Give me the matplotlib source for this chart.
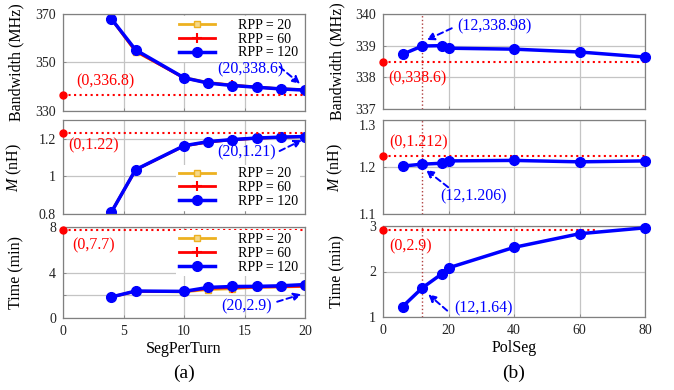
import matplotlib
matplotlib.use("Agg")
from matplotlib import pyplot as plt

plt.rcParams['font.family'] = ['Liberation Serif', 'DejaVu Serif']
plt.rcParams['mathtext.fontset'] = 'custom'
plt.rcParams['mathtext.it'] = 'Liberation Serif:italic'

# (a) SegPerTurn sweep
seg = [4, 6, 10, 12, 14, 16, 18, 20]
bw_rpp20 = [368.0, 354.5, 343.8, 341.8, 340.7, 339.9, 339.2, 338.8]
bw_rpp60 = [368.0, 354.7, 343.6, 341.6, 340.6, 339.8, 339.1, 338.7]
bw_rpp120 = [368.0, 355.2, 343.7, 341.5, 340.5, 339.8, 339.1, 338.6]
m_rpp20 = [0.81, 1.035, 1.162, 1.183, 1.195, 1.203, 1.208, 1.212]
m_rpp60 = [0.81, 1.035, 1.162, 1.183, 1.195, 1.203, 1.208, 1.212]
m_rpp120 = [0.81, 1.036, 1.163, 1.185, 1.196, 1.204, 1.209, 1.212]
t_rpp20 = [1.85, 2.35, 2.30, 2.50, 2.57, 2.70, 2.72, 2.78]
t_rpp60 = [1.85, 2.35, 2.32, 2.60, 2.68, 2.72, 2.76, 2.80]
t_rpp120 = [1.85, 2.37, 2.34, 2.69, 2.77, 2.78, 2.83, 2.94]
ref_a = [336.8, 1.23, 7.7]

# (b) PolSeg sweep
pol = [6, 12, 18, 20, 40, 60, 80]
bw_pol = [338.73, 338.99, 339.0, 338.92, 338.89, 338.8, 338.64]
m_pol = [1.202, 1.206, 1.208, 1.213, 1.214, 1.211, 1.213]
t_pol = [1.23, 1.64, 1.95, 2.08, 2.53, 2.83, 2.96]
ref_b = [338.5, 1.223, 2.91]

W, H = 674, 390
fig = plt.figure(figsize=(W / 100, H / 100), dpi=100)


def box(x0, x1, y0, y1):
    return [x0 / W, 1 - y1 / H, (x1 - x0) / W, (y1 - y0) / H]


axa = [fig.add_axes(box(63, 305, 14, 111)),
       fig.add_axes(box(63, 305, 120, 214)),
       fig.add_axes(box(63, 305, 227, 318))]
axb = [fig.add_axes(box(383, 645, 14, 109)),
       fig.add_axes(box(383, 645, 120, 214)),
       fig.add_axes(box(383, 645, 226, 317))]

blue = '#0000ff'
red = '#ff0000'
orange = '#EDB120'


def style(ax):
    ax.grid(True, color='#c4c4c4', lw=0.9)
    ax.set_axisbelow(True)
    for s in ax.spines.values():
        s.set_color('#808080')
        s.set_linewidth(0.9)
    ax.tick_params(direction='in', length=2, width=0.6, color='#808080',
                   labelsize=10, pad=5, labelcolor='#222222')


ylabels = ['Bandwidth (MHz)', '$M$ (nH)', 'Time (min)']

# left column
series_a = [(bw_rpp20, bw_rpp60, bw_rpp120), (m_rpp20, m_rpp60, m_rpp120),
            (t_rpp20, t_rpp60, t_rpp120)]
ylims_a = [(330, 370), (0.8, 1.3), (0, 8)]
yticks_a = [[330, 350, 370], [0.8, 1, 1.2], [0, 2, 4, 8]]
legend_y = [0.74, 0.28, 0.71]
for i, ax in enumerate(axa):
    style(ax)
    s20, s60, s120 = series_a[i]
    ax.plot(seg, s20, '-s', color=orange, lw=2, ms=5, mfc='#f5d98a', label='RPP = 20')
    ax.plot(seg, s60, '-+', color=red, lw=2, ms=7, mew=1.5, label='RPP = 60')
    ax.plot(seg, s120, '-o', color=blue, lw=2.5, ms=7, mfc=blue, label='RPP = 120')
    ax.plot([0, 20], [ref_a[i], ref_a[i]], ':', color=red, lw=1.5)
    ax.plot([0], [ref_a[i]], 'o', color=red, ms=5, clip_on=False, zorder=5)
    ax.set_xlim(0, 20)
    ax.set_ylim(*ylims_a[i])
    ax.set_xticks([0, 5, 10, 15, 20])
    ax.set_yticks(yticks_a[i])
    ax.set_ylabel(ylabels[i], fontsize=11.5)
    ax.yaxis.set_label_coords(-0.16, 0.5)
    if i < 2:
        ax.set_xticklabels([])
    leg = ax.legend(loc='center left', bbox_to_anchor=(0.44, legend_y[i]),
                    fontsize=10, frameon=True, edgecolor='none', fancybox=False,
                    framealpha=1, handlelength=2.6, handletextpad=1.6,
                    labelspacing=0.05, borderpad=0.2)
axa[1].set_yticklabels(['0.8', '1', '1.2'])
axa[2].set_yticklabels(['0', '', '4', '8'])
axa[2].set_xlabel('SegPerTurn', fontsize=11.5, labelpad=2)

# right column
series_b = [bw_pol, m_pol, t_pol]
ylims_b = [(337, 340), (1.1, 1.3), (1, 3.0)]
yticks_b = [[337, 338, 339, 340], [1.1, 1.2, 1.3], [1, 2, 3]]
ref_end = [80, 80, 65]
for i, ax in enumerate(axb):
    style(ax)
    ax.plot(pol, series_b[i], '-o', color=blue, lw=2.5, ms=7, mfc=blue, clip_on=False, zorder=4)
    ax.plot([0, ref_end[i]], [ref_b[i], ref_b[i]], ':', color=red, lw=1.5)
    ax.plot([0], [ref_b[i]], 'o', color=red, ms=5, clip_on=False, zorder=5)
    ax.axvline(12, ls=':', color='#b04040', lw=1)
    ax.set_xlim(0, 80)
    ax.set_ylim(*ylims_b[i])
    ax.set_xticks([0, 20, 40, 60, 80])
    ax.set_yticks(yticks_b[i])
    ax.set_ylabel(ylabels[i], fontsize=11.5)
    ax.yaxis.set_label_coords(-0.145, 0.5)
    if i < 2:
        ax.set_xticklabels([])
axb[2].set_xlabel('PolSeg', fontsize=11.5, labelpad=2)
# the top label of the middle panel sits a little lower, clear of "337"
axb[1].yaxis.get_major_ticks()[2].label1.set_va('top')

arrow = dict(arrowstyle='-|>', color=blue, lw=1.4, linestyle=(0, (3, 2)),
             mutation_scale=11, shrinkA=0, shrinkB=0)
fs = 11.5

# annotations (a)
axa[0].text(3.5, 342.4, '(0,336.8)', color=red, fontsize=fs, ha='center', va='center')
axa[0].text(15.45, 347, '(20,338.6)', color=blue, fontsize=fs, ha='center', va='center')
axa[0].annotate('', xy=(19.6, 341.2), xytext=(17.9, 348.2), arrowprops=arrow)
axa[1].text(2.5, 1.164, '(0,1.22)', color=red, fontsize=fs, ha='center', va='center')
axa[1].text(15.2, 1.127, '(20,1.21)', color=blue, fontsize=fs, ha='center', va='center')
axa[1].annotate('', xy=(19.75, 1.193), xytext=(17.9, 1.135), arrowprops=arrow)
axa[2].text(2.5, 6.38, '(0,7.7)', color=red, fontsize=fs, ha='center', va='center')
axa[2].text(15.2, 1.06, '(20,2.9)', color=blue, fontsize=fs, ha='center', va='center')
axa[2].annotate('', xy=(19.7, 2.09), xytext=(17.7, 1.43), arrowprops=arrow)

# annotations (b)
axb[0].text(33.9, 339.6, '(12,338.98)', color=blue, fontsize=fs, ha='center', va='center')
axb[0].annotate('', xy=(13.3, 339.18), xytext=(21, 339.55), arrowprops=arrow)
axb[0].text(10.4, 337.97, '(0,338.6)', color=red, fontsize=fs, ha='center', va='center')
axb[1].text(10.8, 1.252, '(0,1.212)', color=red, fontsize=fs, ha='center', va='center')
axb[1].text(27.6, 1.138, '(12,1.206)', color=blue, fontsize=fs, ha='center', va='center')
axb[1].annotate('', xy=(13.1, 1.194), xytext=(19.9, 1.157), arrowprops=arrow)
axb[2].text(8.5, 2.56, '(0,2.9)', color=red, fontsize=fs, ha='center', va='center')
axb[2].text(30.6, 1.19, '(12,1.64)', color=blue, fontsize=fs, ha='center', va='center')
axb[2].annotate('', xy=(13.8, 1.5), xytext=(19.6, 1.14), arrowprops=arrow)

fig.text(184 / W, 1 - 373 / H, '(a)', fontsize=14, ha='center', va='center')
fig.text(514 / W, 1 - 373 / H, '(b)', fontsize=14, ha='center', va='center')

fig.savefig('out.png', dpi=100)
